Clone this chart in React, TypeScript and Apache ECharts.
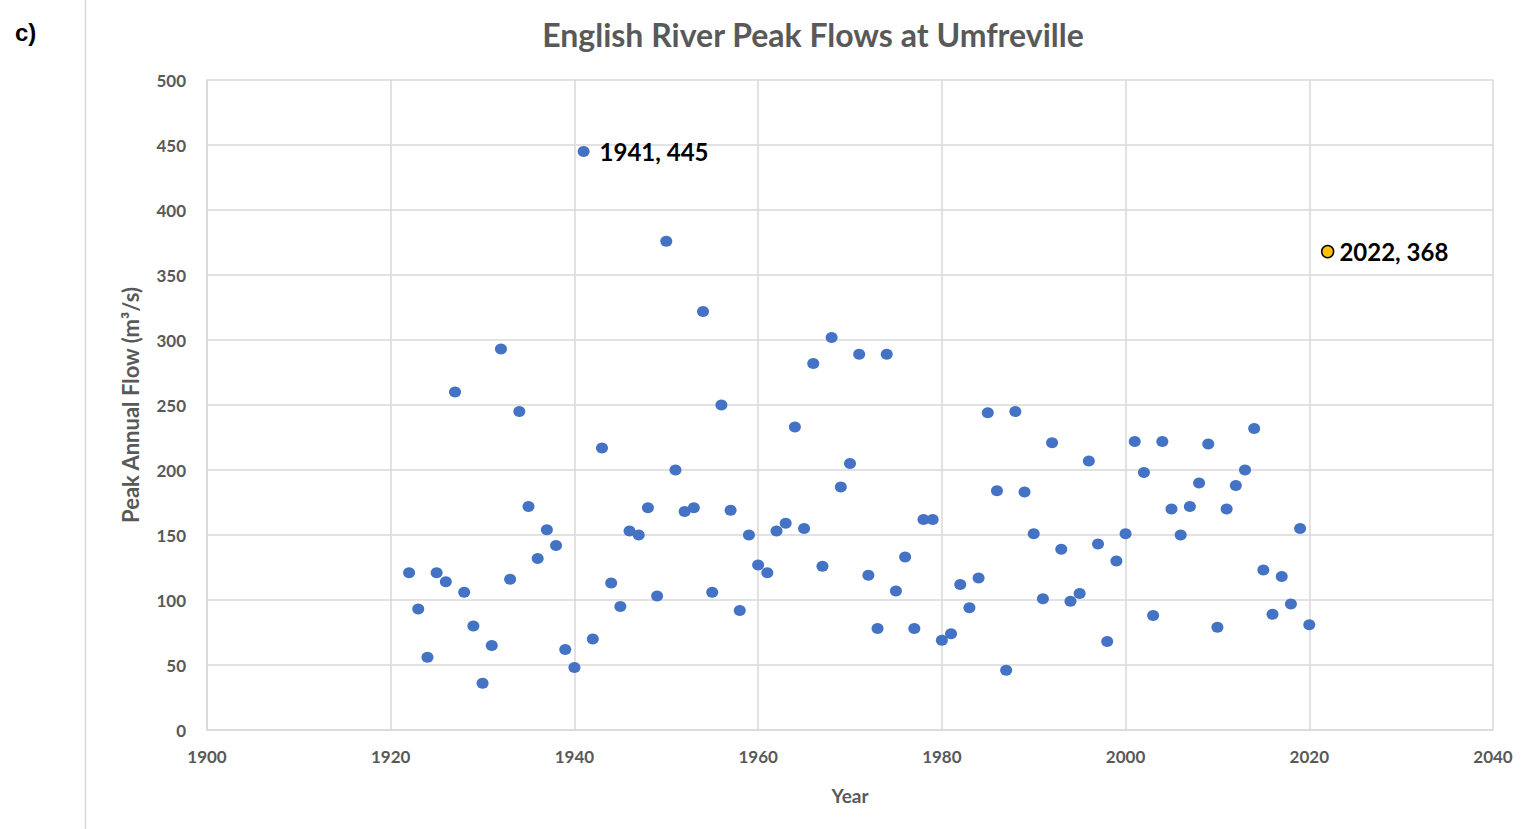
import React, { useEffect, useRef } from "react";
import * as echarts from "echarts";

const startYear = 1922;
const peakFlows = [
  121, 93, 56, 121, 114, 260, 106, 80, 36, 65,
  293, 116, 245, 172, 132, 154, 142, 62, 48, 445,
  70, 217, 113, 95, 153, 150, 171, 103, 376, 200,
  168, 171, 322, 106, 250, 169, 92, 150, 127, 121,
  153, 159, 233, 155, 282, 126, 302, 187, 205, 289,
  119, 78, 289, 107, 133, 78, 162, 162, 69, 74,
  112, 94, 117, 244, 184, 46, 245, 183, 151, 101,
  221, 139, 99, 105, 207, 143, 68, 130, 151, 222,
  198, 88, 222, 170, 150, 172, 190, 220, 79, 170,
  188, 200, 232, 123, 89, 118, 97, 155, 81,
];
const years = peakFlows.map((_, i) => startYear + i);
const labelledYear = 1941;
const highlightPoint = [2022, 368];
const xTicks = [1900, 2040, 20];
const yTicks = [0, 500, 50];

const FONT = "Lato, 'Open Sans', sans-serif";
const GRAY = "#595959";

export default function App() {
  const ref = useRef<HTMLDivElement>(null);
  useEffect(() => {
    if (!ref.current) return;
    const chart = echarts.init(ref.current, null, { renderer: "svg" });
    const labelStyle = (distance: number) => ({
      show: true,
      position: "right" as const,
      distance,
      formatter: (p: any) => `${p.value[0]}, ${p.value[1]}`,
      color: "#000",
      fontFamily: FONT,
      fontWeight: "bold" as const,
      fontSize: 24,
    });
    chart.setOption({
      animation: false,
      backgroundColor: "#fff",
      graphic: [
        { type: "line", shape: { x1: 85.5, y1: 0, x2: 85.5, y2: 829 }, style: { stroke: "#d9d9d9", lineWidth: 1.5 } },
        { type: "text", x: 15, y: 32, style: { text: "c)", fontFamily: "Liberation Sans, Arial, sans-serif", fontWeight: "bold", fontSize: 24, fill: "#000", textVerticalAlign: "middle" } },
        { type: "text", x: 813, y: 34, style: { text: "English River Peak Flows at Umfreville", fontFamily: FONT, fontWeight: "bold", fontSize: 32, fill: GRAY, textAlign: "center", textVerticalAlign: "middle" } },
      ],
      grid: { left: 207, top: 80, width: 1286, height: 650, containLabel: false },
      xAxis: {
        type: "value",
        min: xTicks[0],
        max: xTicks[1],
        interval: xTicks[2],
        name: "Year",
        nameLocation: "middle",
        nameGap: 56,
        nameTextStyle: { fontFamily: FONT, fontWeight: "bold", fontSize: 19, color: GRAY },
        axisLine: { show: true, lineStyle: { color: "#d9d9d9", width: 1.5 } },
        axisTick: { show: false },
        axisLabel: { margin: 18, fontFamily: FONT, fontWeight: "bold", fontSize: 17, color: GRAY, formatter: (v: number) => String(v) },
        splitLine: { show: true, lineStyle: { color: "#d9d9d9", width: 1.5 } },
      },
      yAxis: {
        type: "value",
        min: yTicks[0],
        max: yTicks[1],
        interval: yTicks[2],
        name: "Peak Annual Flow (m³/s)",
        nameLocation: "middle",
        nameGap: 66,
        nameTextStyle: { fontFamily: FONT, fontWeight: "bold", fontSize: 22, color: GRAY },
        axisLine: { show: true, lineStyle: { color: "#d9d9d9", width: 1.5 } },
        axisTick: { show: false },
        axisLabel: { margin: 21, fontFamily: FONT, fontWeight: "bold", fontSize: 17, color: GRAY, formatter: (v: number) => String(v) },
        splitLine: { show: true, lineStyle: { color: "#d9d9d9", width: 1.5 } },
      },
      series: [
        {
          type: "scatter",
          symbol: "circle",
          symbolSize: [12, 11],
          itemStyle: { color: "#4472C4", opacity: 1 },
          data: years.map((y, i) =>
            y === labelledYear
              ? { value: [y, peakFlows[i]], label: labelStyle(10) }
              : [y, peakFlows[i]]
          ),
        },
        {
          type: "scatter",
          symbol: "circle",
          symbolSize: 12,
          itemStyle: { color: "#FFC000", borderColor: "#000", borderWidth: 1.5, opacity: 1 },
          label: labelStyle(5),
          data: [highlightPoint],
        },
      ],
    });
    return () => chart.dispose();
  }, []);
  return (
    <div
      ref={ref}
      style={{ position: "fixed", left: 0, top: 0, width: 1532, height: 829 }}
    />
  );
}
